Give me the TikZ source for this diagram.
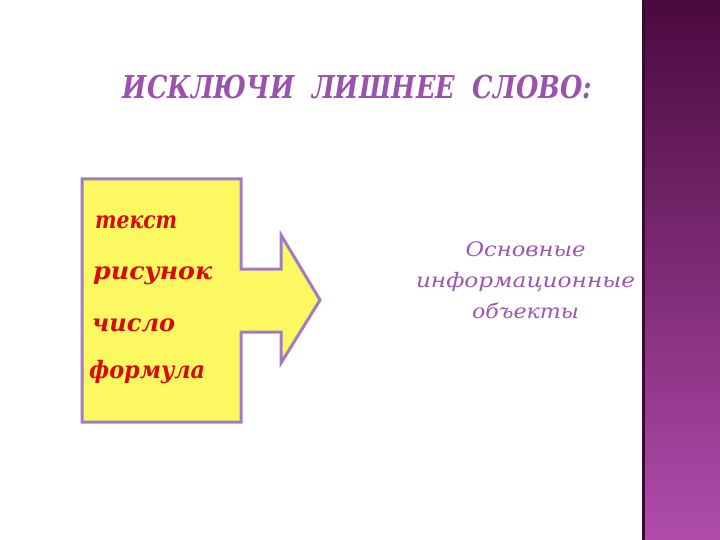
\documentclass[tikz,border=0pt]{standalone}
\usepackage{fontspec}
\usepackage{graphicx}
\setmainfont{DejaVu Serif}
\newcommand\fitto[2]{\resizebox{#1}{\height}{#2}}
\begin{document}
\begin{tikzpicture}[x=1pt,y=-1pt,
  red/.style={font=\fontsize{24}{28}\selectfont\bfseries\itshape, text=itemred, anchor=base west, inner sep=0},
  violet/.style={font=\fontsize{20}{26}\selectfont\itshape, text=infoviolet, anchor=base, inner sep=0}]
\definecolor{itemred}{HTML}{D80A0A}
\definecolor{infoviolet}{HTML}{9E55B2}
\definecolor{titleviolet}{HTML}{9A52AE}
\definecolor{boxyellow}{HTML}{FCF862}
\definecolor{edgeviolet}{HTML}{A07CC4}
\definecolor{bartop}{HTML}{4A0A3E}
\definecolor{barbot}{HTML}{B04CAC}
\useasboundingbox (0,0) rectangle (720,540);
\fill[white] (0,0) rectangle (720,540);
% side bar
\shade[top color=bartop, bottom color=barbot] (643,0) rectangle (720,540);
\fill[bartop!80!black] (642,0) rectangle (645,540);
% title
\node[font=\fontsize{31.5}{36}\selectfont\bfseries\itshape, text=titleviolet, anchor=base, inner sep=0] (title) at (357.5,99) {\fitto{469pt}{ИСКЛЮЧИ\ \ ЛИШНЕЕ\ \ СЛОВО:}};
% box with arrow
\draw[edgeviolet, line width=3pt, fill=boxyellow, line join=miter]
  (82,179) -- (241,179) -- (241,269) -- (281,269) -- (281,235) -- (320,300)
  -- (281,363) -- (281,332) -- (241,332) -- (241,422) -- (82,422) -- cycle;
\node[red] (t1) at (95,229) {\fitto{82pt}{текст}};
\node[red] (t2) at (93,279) {\fitto{119pt}{рисунок}};
\node[red] (t3) at (92,331) {\fitto{83pt}{число}};
\node[red] (t4) at (89,378) {\fitto{116pt}{формула}};
% right text
\node[violet] (o1) at (525.5,256) {\fitto{120pt}{Основные}};
\node[violet] (o2) at (525.5,287) {\fitto{219pt}{информационные}};
\node[violet] (o3) at (525.5,318) {\fitto{107pt}{объекты}};
\end{tikzpicture}
\end{document}
